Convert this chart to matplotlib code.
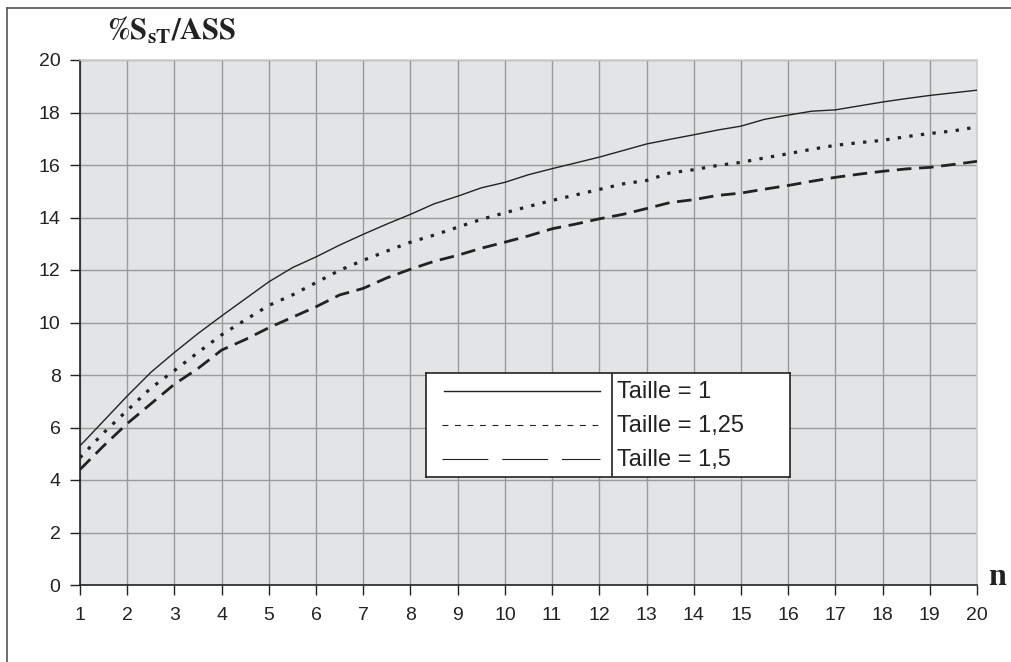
import matplotlib
matplotlib.use("Agg")
import matplotlib.pyplot as plt
from matplotlib.lines import Line2D

plt.rcParams["lines.scale_dashes"] = False
plt.rcParams["mathtext.fontset"] = "stix"

# n sampled every half step
n_values = [1 + 0.5 * i for i in range(39)]

taille_1 = [5.30, 6.25, 7.20, 8.10, 8.86, 9.58, 10.25, 10.90, 11.55, 12.09,
            12.50, 12.95, 13.36, 13.75, 14.12, 14.52, 14.81, 15.13, 15.34, 15.63,
            15.86, 16.08, 16.30, 16.55, 16.80, 16.98, 17.15, 17.33, 17.48, 17.74,
            17.90, 18.05, 18.10, 18.25, 18.40, 18.53, 18.65, 18.75, 18.85]

taille_125 = [4.85, 5.80, 6.65, 7.50, 8.17, 8.86, 9.53, 10.10, 10.65, 11.05,
              11.52, 11.99, 12.37, 12.72, 13.06, 13.33, 13.63, 13.93, 14.18, 14.42,
              14.65, 14.86, 15.07, 15.28, 15.41, 15.70, 15.82, 15.98, 16.10, 16.27,
              16.43, 16.60, 16.75, 16.85, 16.94, 17.08, 17.20, 17.30, 17.45]

taille_15 = [4.40, 5.30, 6.15, 6.90, 7.65, 8.25, 8.95, 9.35, 9.80, 10.20,
             10.60, 11.05, 11.30, 11.70, 12.03, 12.33, 12.56, 12.83, 13.06, 13.30,
             13.57, 13.75, 13.95, 14.12, 14.34, 14.57, 14.68, 14.84, 14.93, 15.08,
             15.22, 15.38, 15.53, 15.65, 15.76, 15.85, 15.91, 16.02, 16.14]

series_labels = ["Taille = 1", "Taille = 1,25", "Taille = 1,5"]
x_ticks = list(range(1, 21))
y_ticks = list(range(0, 21, 2))

ink = "#222222"

fig = plt.figure(figsize=(10.11, 6.62), dpi=100)
ax = fig.add_axes([80 / 1011, 1 - 585 / 662, 897 / 1011, 525 / 662])
ax.set_facecolor("#e3e4e6")

ax.plot(n_values, taille_1, color=ink, lw=1.0, solid_capstyle="butt", zorder=3)
ax.plot(n_values, taille_125, color=ink, lw=2.3, dashes=(2.4, 6.0), zorder=3)
ax.plot(n_values, taille_15, color=ink, lw=2.0, dashes=(10.5, 5.5), zorder=3)

ax.set_xlim(1, 20)
ax.set_ylim(0, 20)
ax.set_xticks(x_ticks)
ax.set_yticks(y_ticks)
ax.grid(True, color="#9a9a9a", lw=1.0, zorder=1)
ax.set_axisbelow(True)

for side in ("top", "right"):
    ax.spines[side].set_color("#cfcfcf")
    ax.spines[side].set_linewidth(1.2)
for side in ("left", "bottom"):
    ax.spines[side].set_color(ink)
    ax.spines[side].set_linewidth(1.2)

ax.tick_params(axis="both", direction="out", length=7, width=1.0, color=ink,
               labelsize=14, labelcolor=ink, labelfontfamily="Liberation Sans")
ax.tick_params(axis="y", pad=7)
ax.tick_params(axis="x", pad=9)

# axis captions
fig.text(107 / 1011, 1 - 40 / 662, r"$\mathbf{\%S_{sT}/ASS}$", fontsize=22,
         color=ink, va="baseline", ha="left")
fig.text(988 / 1011, 1 - 585 / 662, "n", fontsize=23, fontweight="bold",
         family="Liberation Serif", color=ink, va="baseline", ha="left")

# legend box with line samples on the left and labels on the right
lg = fig.add_axes([426 / 1011, 1 - 477 / 662, 364 / 1011, 104 / 662])
lg.set_xlim(0, 364)
lg.set_ylim(104, 0)
lg.set_facecolor("white")
lg.set_xticks([])
lg.set_yticks([])
for s in lg.spines.values():
    s.set_color(ink)
    s.set_linewidth(1.2)
lg.set_zorder(5)
lg.axvline(186, color=ink, lw=1.2)
rows = [18, 52, 86]
lg.add_line(Line2D([18, 174], [rows[0]] * 2, color=ink, lw=1.0))
lg.add_line(Line2D([16, 176], [rows[1]] * 2, color=ink, lw=0.8, dashes=(4.2, 4.8)))
lg.add_line(Line2D([16, 174], [rows[2]] * 2, color=ink, lw=0.8, dashes=(33, 10)))
for y, label in zip(rows, series_labels):
    lg.text(191, y + 1, label, fontsize=17, family="Liberation Sans", color=ink,
            va="center", ha="left")

# outer frame on left and top
fig.add_artist(Line2D([7 / 1011, 7 / 1011], [0, 1 - 8 / 662], color="#555555",
                      lw=1.2, transform=fig.transFigure))
fig.add_artist(Line2D([7 / 1011, 1], [1 - 8 / 662, 1 - 8 / 662], color="#555555",
                      lw=1.2, transform=fig.transFigure))

fig.savefig("out.png", dpi=100)
